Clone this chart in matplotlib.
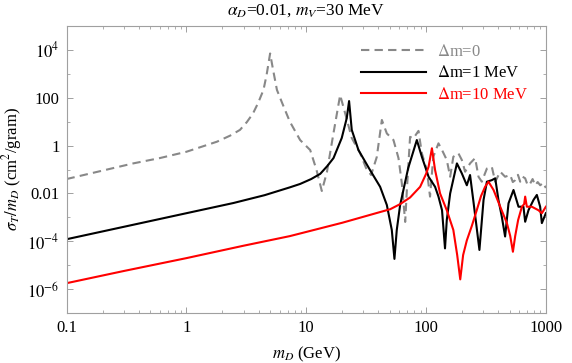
import numpy as np
import matplotlib
matplotlib.use('Agg')
import matplotlib.pyplot as plt
from matplotlib.ticker import FixedLocator, FixedFormatter, LogLocator, NullFormatter

# sigma_T/m_D (cm^2/gram) vs m_D (GeV)
m_dm0 = [0.1, 0.36, 0.60, 1.0, 1.8, 2.32, 2.8, 3.2, 3.6, 3.97, 4.4, 4.67, 5.0, 5.3,
         5.7, 6.3, 7.3, 8.9, 10.8, 12.2, 13.5, 14.9,
         16.8, 19.2, 21.1, 24, 28.2, 31.6, 34.8, 38.8, 42.8, 47.1, 53.5, 58.9, 62.8,
         67, 69.2, 73.6, 78.5, 86.5, 92.3, 101.6, 108, 115, 127, 136, 149, 159, 169,
         186, 199, 212, 233, 257, 274, 292, 322, 354, 378, 416, 457, 504, 530, 555,
         585, 611, 640, 672, 705, 740, 775, 815, 855, 897, 950, 1000]
s_dm0 = [0.040, 0.18, 0.30, 0.55, 1.45, 2.6, 4.5, 9.6, 22, 60, 210, 870, 7000, 1400,
         210, 60, 10, 1.7, 0.65, 0.095, 0.0127,
         0.079, 2.8, 128, 23, 2.07, 0.48, 0.115, 0.059, 0.33, 11.7, 3.2, 1.7, 0.30,
         0.027, 6.5e-4, 0.014, 2.3, 2.0, 4.1, 0.48, 0.095, 0.0074, 0.34, 1.24, 0.65,
         0.25, 0.050, 0.34, 0.48, 0.25, 0.081, 0.18, 0.30, 0.050, 0.031, 0.11, 0.13,
         0.031, 0.081, 0.050, 0.059, 0.030, 0.036, 0.060, 0.031, 0.050, 0.043, 0.022,
         0.026, 0.040, 0.022, 0.030, 0.022, 0.028, 0.017]

m_dm1 = [0.1, 0.31, 1.0, 2.47, 4.5, 7.3, 8.9, 11, 13.1, 15, 16.9, 19.8, 21.8, 22.8,
         24, 27.3, 34.1, 41.4, 47.1, 51.8, 54.5, 57, 60.8, 71, 83.8, 92.3, 105, 119,
         127, 136, 144, 149, 159, 181, 199, 219, 233, 249, 279, 302, 322, 354, 378,
         402, 429, 457, 488, 537, 591, 650, 672, 716, 789, 841, 896, 926, 1000]
s_dm1 = [1.23e-4, 4.2e-4, 1.5e-3, 4.0e-3, 8.5e-3, 0.018, 0.025, 0.040, 0.066, 0.14,
         0.30, 2.07, 14, 72, 4.5, 0.65, 0.095, 0.019, 3.3e-3, 3.0e-4, 1.86e-5, 3.0e-4,
         3.3e-3, 0.115, 1.7, 0.34, 0.050, 0.019, 0.0074, 2.0e-3, 5.1e-5, 7.8e-4,
         0.010, 0.18, 0.069, 0.022, 0.059, 4.4e-3, 4.4e-5, 5.4e-3, 0.031, 0.036,
         0.043, 5.4e-3, 1.07e-3, 1.6e-4, 3.9e-3, 0.014, 2.8e-3, 2.8e-3, 6.6e-4,
         2.0e-3, 5.4e-3, 8.7e-3, 2.8e-3, 5.8e-4, 1.5e-3]

m_dm10 = [0.1, 0.3, 1.0, 3.0, 7.3, 20, 40, 50.2, 60.8, 73.6, 89.3, 100, 105, 112, 119,
          131, 149, 169, 182, 193, 204, 219, 241, 265, 288, 311, 332, 366, 416, 473,
          504, 531, 555, 587, 631, 659, 672, 694, 764, 867, 926, 1000]
s_dm10 = [1.8e-6, 5.8e-6, 2.0e-5, 6.6e-5, 1.66e-4, 6.0e-4, 1.6e-3, 2.2e-3, 3.6e-3,
          6.8e-3, 0.019, 0.065, 0.13, 0.77, 0.095, 0.010, 2.0e-3, 3.0e-4, 2.7e-5,
          2.6e-6, 2.7e-5, 1.1e-4, 4.4e-4, 2.0e-3, 7.9e-3, 0.019, 0.031, 0.014, 2.8e-3,
          5.8e-4, 1.7e-4, 3.7e-5, 1.7e-4, 7.8e-4, 2.8e-3, 3.6e-3, 7.4e-3, 2.8e-3,
          2.8e-3, 2.0e-3, 1.5e-3, 2.8e-3]

x_ticks = [0.1, 1, 10, 100, 1000]
x_labels = ['0.1', '1', '10', '100', '1000']
y_ticks = [1e-6, 1e-4, 1e-2, 1, 100, 1e4]
y_labels = [r'$10^{-6}$', r'$10^{-4}$', '0.01', '1', '100', r'$10^{4}$']

plt.rcParams['font.family'] = ['Liberation Serif', 'DejaVu Serif']
plt.rcParams['mathtext.fontset'] = 'stix'
plt.rcParams['font.size'] = 11

fig = plt.figure(figsize=(5.72, 3.63), dpi=100)
ax = fig.add_axes([0.1163, 0.137, 0.838, 0.792])

ax.plot(m_dm0, s_dm0, color='#888888', lw=1.5, dashes=(4, 2.5), label=r'$\Delta$m=0')
ax.plot(m_dm1, s_dm1, color='black', lw=1.5, label=r'$\Delta$m=1 MeV')
ax.plot(m_dm10, s_dm10, color='#ff0000', lw=1.5, label=r'$\Delta$m=10 MeV')

ax.set_xscale('log')
ax.set_yscale('log')
ax.set_xlim(0.1, 1000)
ax.set_ylim(1e-7, 1e5)

ax.xaxis.set_major_locator(FixedLocator(x_ticks))
ax.xaxis.set_major_formatter(FixedFormatter(x_labels))
ax.xaxis.set_minor_locator(LogLocator(base=10, subs=np.arange(2, 10)))
ax.xaxis.set_minor_formatter(NullFormatter())
ax.yaxis.set_major_locator(FixedLocator(y_ticks))
ax.yaxis.set_major_formatter(FixedFormatter(y_labels))
ax.yaxis.set_minor_locator(LogLocator(base=10, subs=[1.0], numticks=20))
ax.yaxis.set_minor_formatter(NullFormatter())

for s in ax.spines.values():
    s.set_color('#a0a0a0')
    s.set_linewidth(0.8)
ax.tick_params(which='both', direction='in', top=True, right=True, color='#a0a0a0',
               labelsize=12, pad=5)
ax.tick_params(which='major', length=4, width=0.7)
ax.tick_params(which='minor', length=2.5, width=0.6)

ax.set_xlabel(r'$m_D$ (GeV)', fontsize=12, labelpad=6)
ax.set_ylabel(r'$\sigma_T/m_D$ (cm$^2$/gram)', fontsize=12, labelpad=2)
ax.set_title(r'$\alpha_D$=0.01, $m_V$=30 MeV', fontsize=12.5, pad=8)

leg = ax.legend(loc='upper right', bbox_to_anchor=(0.995, 0.99), frameon=False,
                handlelength=3.9, fontsize=12, labelcolor='linecolor',
                labelspacing=0.35, handletextpad=0.7)

fig.savefig('out.png', dpi=100)
